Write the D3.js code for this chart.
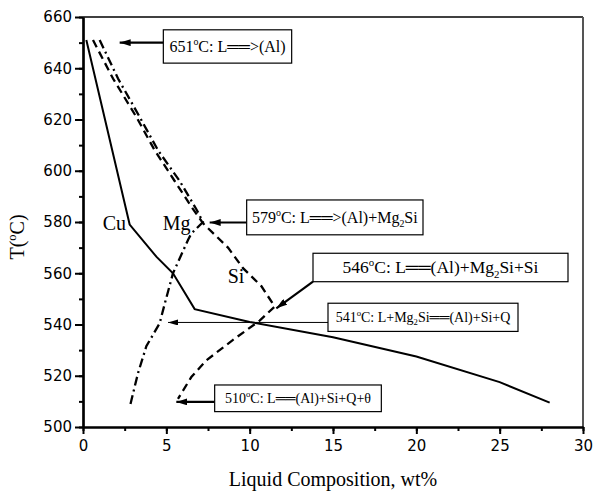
<!DOCTYPE html>
<html>
<head>
<meta charset="utf-8">
<script src="https://cdn.jsdelivr.net/npm/d3@7"></script>
<style>
body { margin: 0; background: #fff; }
</style>
</head>
<body>
<div id="chart"></div>
<script>
// Data: liquid composition (wt%) against temperature (C)
const cuLine = [[0.2, 651], [2.8, 579], [4.4, 566.5], [5.4, 560], [6.7, 546], [10, 541],
    [15, 535], [20, 527.5], [25, 517.5], [28, 509.5]];
const mgLine = [[1.0, 651], [2.1, 636], [3.4, 621], [4.5, 608], [5.8, 596], [6.8, 585],
    [7.2, 580], [6.5, 575.5], [6.3, 573], [5.4, 560], [4.9, 548], [4.6, 540.5],
    [3.8, 531.5], [3.3, 521], [2.85, 509]];
const siLine = [[0.6, 651], [1.8, 636], [3.2, 621], [4.3, 608], [5.5, 596], [6.5, 586],
    [7.2, 579.5], [8.7, 570], [9.6, 562], [10.7, 555], [11.5, 547], [10.6, 541.5],
    [9.0, 534], [7.4, 526], [6.5, 519.5], [5.7, 511]];

const curveNames = ['Cu', 'Mg', 'Si'];
const xTicks = [0, 5, 10, 15, 20, 25, 30];
const yTicks = [500, 520, 540, 560, 580, 600, 620, 640, 660];

// reactions, "^" = superscript, "_" = subscript
const notes = [
    '651^oC: L\u2550\u2550>(Al)',
    '579^oC: L\u2550\u2550>(Al)+Mg_2Si',
    '546^oC: L\u2550\u2550(Al)+Mg_2Si+Si',
    '541^oC: L+Mg_2Si\u2550\u2550(Al)+Si+Q',
    '510^oC: L\u2550\u2550(Al)+Si+Q+\u03B8'
];
const noteTips = [[2.2, 650], [7.6, 579.8], [11.6, 546.3], [5.1, 540.8], [5.6, 509.8]];

// Layout
const width = 604;
const height = 492;
const margin = {top: 17, right: 21, bottom: 65, left: 83};

// box [wt left, wt right, T top, T bottom], where the arrow leaves, text size
const noteBoxes = [
    {box: [4.82, 12.52, 655, 642], from: 'left', thin: false, fs: 16},
    {box: [9.82, 20.4, 588.6, 575], from: 'left', thin: false, fs: 16},
    {box: [13.8, 29.1, 567.8, 556.7], from: 'corner', thin: false, fs: 17.5},
    {box: [14.7, 26.1, 548.3, 537.3], from: 'left', thin: true, fs: 14},
    {box: [7.9, 17.9, 516.4, 506], from: 'left', thin: false, fs: 14}
];
const nameSpots = [[1.18, 576.9], [4.78, 576.9], [8.68, 556.3]];

const x = d3.scaleLinear()
    .domain([0, 30])
    .range([margin.left, width - margin.right]);

const y = d3.scaleLinear()
    .domain([500, 660])
    .range([height - margin.bottom, margin.top]);

const svg = d3.select('#chart')
    .append('svg')
    .attr('width', width)
    .attr('height', height);

const serif = '"Liberation Serif", "DejaVu Serif", serif';
const sans = '"DejaVu Sans", sans-serif';

// arrow heads
const defs = svg.append('defs');
[['head', 11, 7], ['headThin', 10, 6]].forEach(([id, w, h]) => {
    defs.append('marker')
        .attr('id', id)
        .attr('markerUnits', 'userSpaceOnUse')
        .attr('markerWidth', w)
        .attr('markerHeight', h)
        .attr('refX', w)
        .attr('refY', h / 2)
        .attr('orient', 'auto')
        .append('path')
        .attr('d', `M0,0L${w},${h / 2}L0,${h}Z`)
        .attr('fill', '#000');
});

// frame
svg.append('line')
    .attr('x1', x(0)).attr('x2', x(30))
    .attr('y1', y(660)).attr('y2', y(660))
    .attr('stroke', '#000')
    .attr('stroke-width', 1.5);

svg.append('line')
    .attr('x1', x(30)).attr('x2', x(30))
    .attr('y1', y(660)).attr('y2', y(500))
    .attr('stroke', '#555')
    .attr('stroke-width', 2);

// Axes
const xMinor = d3.range(0, 30.1, 2.5);
const yMinor = d3.range(500, 660.1, 10);

svg.append('g')
    .attr('transform', `translate(0, ${y(500)})`)
    .call(d3.axisBottom(x).tickValues(xMinor).tickSize(4).tickFormat('').tickSizeOuter(0));

svg.append('g')
    .attr('transform', `translate(0, ${y(500)})`)
    .call(d3.axisBottom(x).tickValues(xTicks).tickSize(7).tickSizeOuter(0).tickPadding(6));

svg.append('g')
    .attr('transform', `translate(${x(0)}, 0)`)
    .call(d3.axisLeft(y).tickValues(yMinor).tickSize(4).tickFormat('').tickSizeOuter(0));

svg.append('g')
    .attr('transform', `translate(${x(0)}, 0)`)
    .call(d3.axisLeft(y).tickValues(yTicks).tickSize(8).tickSizeOuter(0).tickPadding(3));

svg.selectAll('.domain').attr('stroke-width', 2.2);
svg.selectAll('.tick line').attr('stroke-width', 2);
svg.selectAll('.tick text')
    .attr('font-family', sans)
    .attr('font-size', 15)
    .attr('fill', '#000');

// mixed text with ^sup and _sub parts
function richText(sel, str, size) {
    const parts = str.split(/(\^.|_.)/).filter(s => s.length);
    let shift = 0;
    parts.forEach(p => {
        let dy = -shift;
        let txt = p;
        let fs = size;
        shift = 0;
        if (p[0] === '^') { txt = p[1]; shift = -size * 0.42; fs = size * 0.62; }
        if (p[0] === '_') { txt = p[1]; shift = size * 0.25; fs = size * 0.62; }
        dy += shift;
        sel.append('tspan')
            .attr('dy', dy)
            .attr('font-size', fs)
            .text(txt);
    });
}

// axis titles
svg.append('text')
    .attr('x', (x(0) + x(30)) / 2)
    .attr('y', 486)
    .attr('text-anchor', 'middle')
    .attr('font-family', serif)
    .attr('font-size', 20)
    .text('Liquid Composition, wt%');

const yTitle = svg.append('text')
    .attr('transform', 'translate(24, 237) rotate(-90)')
    .attr('text-anchor', 'middle')
    .attr('font-family', serif)
    .attr('font-size', 20);
richText(yTitle, 'T(^oC)', 20);

// Lines
const line = d3.line()
    .x(d => x(d[0]))
    .y(d => y(d[1]));

svg.append('path')
    .datum(cuLine)
    .attr('fill', 'none')
    .attr('stroke', '#000')
    .attr('stroke-width', 2)
    .attr('d', line);

svg.append('path')
    .datum(mgLine)
    .attr('fill', 'none')
    .attr('stroke', '#000')
    .attr('stroke-width', 2.3)
    .attr('stroke-dasharray', '9,4,2,4')
    .attr('d', line);

svg.append('path')
    .datum(siLine)
    .attr('fill', 'none')
    .attr('stroke', '#000')
    .attr('stroke-width', 2.3)
    .attr('stroke-dasharray', '8,5')
    .attr('d', line);

svg.selectAll('.name')
    .data(curveNames)
    .enter()
    .append('text')
    .attr('class', 'name')
    .attr('x', (d, i) => x(nameSpots[i][0]))
    .attr('y', (d, i) => y(nameSpots[i][1]))
    .attr('font-family', serif)
    .attr('font-size', 20)
    .text(d => d);

// Annotations
notes.forEach((note, i) => {
    const nb = noteBoxes[i];
    const b = nb.box;
    const x0 = x(b[0]), x1 = x(b[1]);
    const y0 = y(b[2]), y1 = y(b[3]);
    const tip = noteTips[i];

    const sy = nb.from === 'corner' ? y1 : y(tip[1]);
    svg.append('line')
        .attr('x1', x0).attr('y1', sy)
        .attr('x2', x(tip[0])).attr('y2', y(tip[1]))
        .attr('stroke', '#000')
        .attr('stroke-width', nb.thin ? 1 : 2.2)
        .attr('marker-end', nb.thin ? 'url(#headThin)' : 'url(#head)');

    svg.append('rect')
        .attr('x', x0).attr('y', y0)
        .attr('width', x1 - x0).attr('height', y1 - y0)
        .attr('fill', '#fff')
        .attr('stroke', '#000')
        .attr('stroke-width', 1.2);

    const t = svg.append('text')
        .attr('x', (x0 + x1) / 2)
        .attr('y', (y0 + y1) / 2 + nb.fs * 0.33)
        .attr('text-anchor', 'middle')
        .attr('font-family', serif)
        .attr('font-size', nb.fs);
    richText(t, note, nb.fs);
});
</script>
</body>
</html>
